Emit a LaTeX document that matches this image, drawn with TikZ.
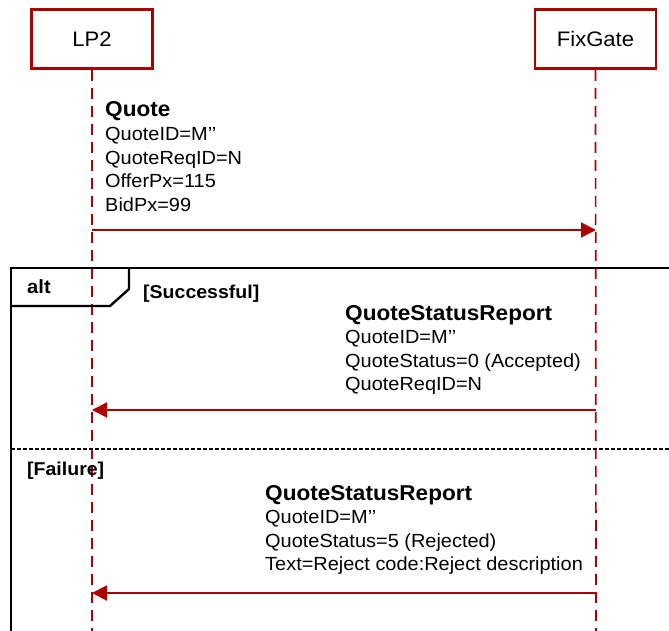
\documentclass[tikz,border=0pt]{standalone}
\usepackage{fontspec}
\setmainfont{Liberation Sans}[FakeStretch=1.05]
\usetikzlibrary{arrows.meta}
\definecolor{umlred}{RGB}{175,0,0}
\tikzset{
  actor/.style={draw=umlred, line width=2.6pt, fill=white, minimum width=121pt,
    minimum height=59pt, inner sep=0pt, font=\fontsize{21}{24}\selectfont},
  lifeline/.style={umlred, line width=1.7pt, dash pattern=on 11pt off 7pt},
  msg/.style={umlred, line width=2pt, -{Triangle[length=15pt,width=15pt]}},
  msgtext/.style={anchor=north west, inner sep=0pt, align=left,
    font=\fontsize{19}{23.5}\selectfont},
  frameline/.style={black, line width=2.4pt},
  guard/.style={anchor=base west, inner sep=0pt, font=\fontsize{18.6}{22}\selectfont\bfseries},
}
\begin{document}
\begin{tikzpicture}[x=1pt, y=-1pt]
  \useasboundingbox (0,0) rectangle (669,630);
  % lifelines
  \node[actor] (lp) at (92,39) {LP2};
  \node[actor] (fix) at (595.5,39) {FixGate};
  \coordinate (lpend) at (92,632);
  \coordinate (fixend) at (596,632);
  \draw[lifeline] (lp.south) -- (lpend);
  \draw[lifeline] (fix.south) -- (fixend);
  % Quote
  \coordinate (m1a) at (92,230);
  \coordinate (m1b) at (596,230);
  \draw[msg] (m1a) -- (m1b);
  \node[msgtext] (quote) at (105,101) {{\fontsize{21.5}{24}\selectfont\bfseries Quote}\\[1pt]
    QuoteID=M’’\\QuoteReqID=N\\OfferPx=115\\BidPx=99};
  % alt fragment
  \draw[frameline] (11,631) -- (11,268) -- (671,268);
  \draw[frameline] (11,306) -- (110,306) -- (129,289) -- (129,268);
  \node[guard, font=\fontsize{19.2}{22}\selectfont\bfseries] (alt) at (27,293) {alt};
  \node[guard] (succ) at (143,298) {[Successful]};
  \draw[black, line width=1.1pt, dash pattern=on 3.5pt off 2.5pt] (11,449) -- (671,449);
  \node[guard] (fail) at (27,475) {[Failure]};
  % accepted
  \coordinate (m2a) at (596,410);
  \coordinate (m2b) at (92,410);
  \draw[msg] (m2a) -- (m2b);
  \node[msgtext] (acc) at (345,305) {{\fontsize{21.5}{24}\selectfont\bfseries QuoteStatusReport}\\[0pt]
    QuoteID=M’’\\QuoteStatus=0 (Accepted)\\QuoteReqID=N};
  % rejected
  \coordinate (m3a) at (596,593);
  \coordinate (m3b) at (92,593);
  \draw[msg] (m3a) -- (m3b);
  \node[msgtext] (rej) at (265,485) {{\fontsize{21.5}{24}\selectfont\bfseries QuoteStatusReport}\\[0pt]
    QuoteID=M’’\\QuoteStatus=5 (Rejected)\\Text=Reject code:Reject description};
\end{tikzpicture}
\end{document}
